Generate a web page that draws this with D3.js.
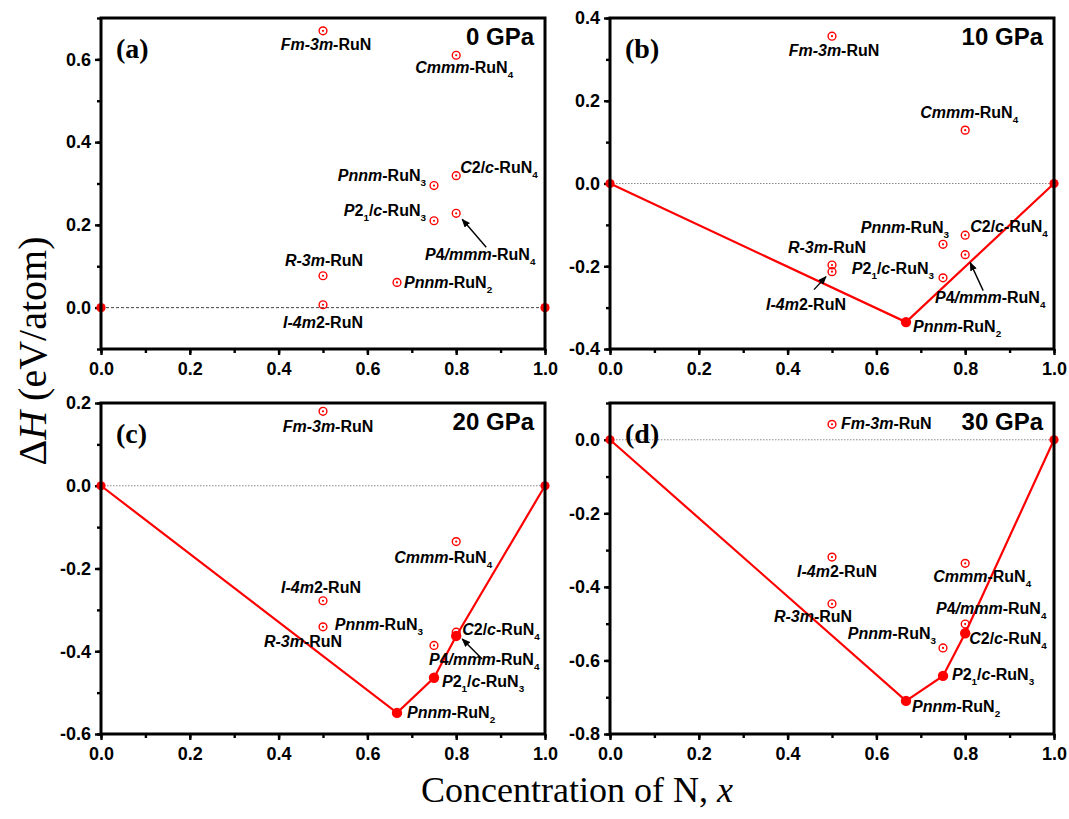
<!DOCTYPE html>
<html><head><meta charset="utf-8">
<script src="https://cdn.jsdelivr.net/npm/d3@7"></script>
<style>body{margin:0;background:#fff}svg{display:block}</style>
</head><body><svg id="chart" width="1069" height="819"></svg>
<script>
// ---------------- DATA ----------------
const structures = ["Fm-3m-RuN","R-3m-RuN","I-4m2-RuN","Pnnm-RuN2","Pnnm-RuN3","P21/c-RuN3","C2/c-RuN4","P4/mmm-RuN4","Cmmm-RuN4"];
// rich-text: *...* toggles italic, _X makes X a subscript
const structureLabels = ["*Fm-3m*-RuN","*R-3m*-RuN","*I-4m*2-RuN","*Pnnm*-RuN_2","*Pnnm*-RuN_3","*P*2_1/*c*-RuN_3","*C*2/*c*-RuN_4","*P*4*/mmm*-RuN_4","*Cmmm*-RuN_4"];
const composition = [0.5,0.5,0.5,2/3,0.75,0.75,0.8,0.8,0.8];
const elementX = [0,1];
const elementH = [0,0];
const pressures = ["0 GPa","10 GPa","20 GPa","30 GPa"];
const panelTags = ["(a)","(b)","(c)","(d)"];
const dH_0GPa  = [0.669, 0.077, 0.007, 0.061, 0.295, 0.210, 0.319, 0.228, 0.610];
const dH_10GPa = [0.356,-0.197,-0.213,-0.335,-0.147,-0.228,-0.125,-0.172, 0.129];
const dH_20GPa = [0.180,-0.341,-0.278,-0.549,-0.386,-0.464,-0.354,-0.363,-0.135];
const dH_30GPa = [0.042,-0.446,-0.319,-0.710,-0.566,-0.642,-0.526,-0.501,-0.336];
const hull_0GPa  = [];
const hull_10GPa = ["Pnnm-RuN2"];
const hull_20GPa = ["Pnnm-RuN2","P21/c-RuN3","P4/mmm-RuN4"];
const hull_30GPa = ["Pnnm-RuN2","P21/c-RuN3","C2/c-RuN4"];
const yDomain_0GPa  = [-0.1,0.7];
const yDomain_10GPa = [-0.4,0.4];
const yDomain_20GPa = [-0.6,0.2];
const yDomain_30GPa = [-0.8,0.1];
const xTicks = [0,0.2,0.4,0.6,0.8,1.0];
const xTitle = "Concentration of N, ";
const yTitleUnit = " (eV/atom)";

// ---------------- LAYOUT (positions / styles) ----------------
const W = 444, H = 331;
const panelPos = [[101,18],[610,18],[101,403],[610,403]];
// label placement per panel: [anchor, dx, dy] relative to marker (pixels)
const labelPlace = [
  [["middle",3,19],["middle",1,-10],["middle",0,23],["start",7,6],["end",-8,-5],["end",-8,-5],["start",4,-3],["middle",24,47],["middle",8,18]],
  [["middle",2,20],["middle",-5,-12],["middle",-26,38],["start",7,10],["end",6,-11],["end",-9,-4],["start",5,-3],["middle",25,48],["middle",4,-12]],
  [["middle",5,21],["middle",-20,20],["middle",-2,-8],["start",10,5],["end",-11,-15],["start",8,9],["start",6,3],["middle",28,29],["middle",-13,21]],
  [["start",9,5],["middle",-19,18],["middle",5,20],["start",6,11],["end",-7,-9],["start",9,4],["start",4,11],["middle",26,-10],["middle",17,19]]
];
// arrows: [structure name, tail dx, tail dy, tip dx, tip dy] relative to marker
const arrowPlace = [
  [["P4/mmm-RuN4",30,34,6,6]],
  [["I-4m2-RuN",-18,18,-6,5],["P4/mmm-RuN4",18,36,5,8]],
  [["P4/mmm-RuN4",26,23,6,3]],
  []
];

const panelData = [
  {dH:dH_0GPa, hull:hull_0GPa, yDom:yDomain_0GPa},
  {dH:dH_10GPa, hull:hull_10GPa, yDom:yDomain_10GPa},
  {dH:dH_20GPa, hull:hull_20GPa, yDom:yDomain_20GPa},
  {dH:dH_30GPa, hull:hull_30GPa, yDom:yDomain_30GPa}
];

const SANS = "'Liberation Sans', Arial, sans-serif";
const SERIF = "'Liberation Serif', 'Times New Roman', serif";
const RED = "#ff0000";

const svg = d3.select("#chart");
const defs = svg.append("defs");
defs.append("marker").attr("id","arrowhead")
  .attr("markerUnits","userSpaceOnUse").attr("viewBox","0 0 10 8")
  .attr("markerWidth",9).attr("markerHeight",7).attr("refX",9).attr("refY",4)
  .attr("orient","auto")
  .append("path").attr("d","M0,0 L10,4 L0,8 z").attr("fill","#000");

function richText(textSel, markup, size){
  let italic=false, buf="", runs=[];
  for(let i=0;i<markup.length;i++){
    const c=markup[i];
    if(c==="*"){ if(buf){runs.push({t:buf,it:italic,sub:false});buf="";} italic=!italic; }
    else if(c==="_"){ if(buf){runs.push({t:buf,it:italic,sub:false});buf="";} runs.push({t:markup[++i],it:false,sub:true}); }
    else buf+=c;
  }
  if(buf) runs.push({t:buf,it:italic,sub:false});
  let prevSub=false;
  runs.forEach(r=>{
    const ts=textSel.append("tspan").text(r.t)
      .attr("font-style",r.it?"italic":"normal")
      .attr("font-size",r.sub?size*0.62:size);
    if(r.sub && !prevSub) ts.attr("dy",5);
    if(!r.sub && prevSub) ts.attr("dy",-5);
    prevSub=r.sub;
  });
}

const fmt = d => (Math.abs(d)<1e-9 ? "0.0" : d.toFixed(1));

panelData.forEach((pd,pi)=>{
  const [px,py]=panelPos[pi];
  const g=svg.append("g").attr("transform",`translate(${px},${py})`);
  const x=d3.scaleLinear().domain([0,1]).range([0,W]);
  const y=d3.scaleLinear().domain(pd.yDom).range([H,0]);

  // minor ticks
  const yMinor=d3.range(Math.round(pd.yDom[0]*10),Math.round(pd.yDom[1]*10)+1).map(v=>v/10);
  g.append("g").call(d3.axisLeft(y).tickValues(yMinor).tickSize(4).tickFormat(""))
    .call(s=>{s.select(".domain").remove();s.selectAll("line").attr("stroke-width",2.4);});
  g.append("g").attr("transform",`translate(0,${H})`)
    .call(d3.axisBottom(x).tickValues(d3.range(0,11).map(v=>v/10)).tickSize(4).tickFormat(""))
    .call(s=>{s.select(".domain").remove();s.selectAll("line").attr("stroke-width",2.4);});
  // major ticks
  const yMajor=yMinor.filter(v=>Math.abs(Math.round(v*10))%2===0);
  g.append("g").call(d3.axisLeft(y).tickValues(yMajor).tickSize(6).tickPadding(4).tickFormat(fmt))
    .call(s=>{s.select(".domain").remove();s.selectAll("line").attr("stroke-width",2.4);
      s.selectAll("text").attr("font-family",SANS).attr("font-weight","bold").attr("font-size",18).attr("fill","#000");});
  g.append("g").attr("transform",`translate(0,${H})`)
    .call(d3.axisBottom(x).tickValues(xTicks).tickSize(6).tickPadding(7).tickFormat(fmt))
    .call(s=>{s.select(".domain").remove();s.selectAll("line").attr("stroke-width",2.4);
      s.selectAll("text").attr("font-family",SANS).attr("font-weight","bold").attr("font-size",18).attr("fill","#000");});

  // zero reference line
  g.append("line").attr("x1",0).attr("x2",W).attr("y1",y(0)).attr("y2",y(0))
    .attr("stroke",pi===0?"#444":"#888").attr("stroke-width",1)
    .attr("stroke-dasharray",pi===0?"3,2":"1.5,1.5");

  // hull
  const hullPts=[[elementX[0],elementH[0]]]
    .concat(structures.map((s,i)=>[composition[i],pd.dH[i],s]).filter(d=>pd.hull.includes(d[2])))
    .concat([[elementX[1],elementH[1]]]).sort((a,b)=>a[0]-b[0]);
  if(pd.hull.length>0){
    g.append("path").datum(hullPts)
      .attr("d",d3.line().x(d=>x(d[0])).y(d=>y(d[1])))
      .attr("fill","none").attr("stroke",RED).attr("stroke-width",2.2);
  }

  // points
  structures.forEach((s,i)=>{
    const cx=x(composition[i]), cy=y(pd.dH[i]);
    if(pd.hull.includes(s)){
      g.append("circle").attr("cx",cx).attr("cy",cy).attr("r",5.2).attr("fill",RED);
    } else {
      g.append("circle").attr("cx",cx).attr("cy",cy).attr("r",3.9).attr("fill","none").attr("stroke",RED).attr("stroke-width",1.4);
      g.append("circle").attr("cx",cx).attr("cy",cy).attr("r",1.1).attr("fill",RED);
    }
  });
  elementX.forEach((ex,i)=>{
    g.append("circle").attr("cx",x(ex)).attr("cy",y(elementH[i])).attr("r",4.6).attr("fill",RED);
  });

  // arrows
  arrowPlace[pi].forEach(a=>{
    const i=structures.indexOf(a[0]);
    const cx=x(composition[i]), cy=y(pd.dH[i]);
    g.append("line").attr("x1",cx+a[1]).attr("y1",cy+a[2]).attr("x2",cx+a[3]).attr("y2",cy+a[4])
      .attr("stroke","#000").attr("stroke-width",1.4).attr("marker-end","url(#arrowhead)");
  });

  // labels
  structures.forEach((s,i)=>{
    const [anc,dx,dy]=labelPlace[pi][i];
    const t=g.append("text").attr("x",x(composition[i])+dx).attr("y",y(pd.dH[i])+dy)
      .attr("text-anchor",anc).attr("font-family",SANS).attr("font-weight","bold").attr("fill","#000");
    richText(t,structureLabels[i],16);
  });

  // frame
  g.append("rect").attr("x",0).attr("y",0).attr("width",W).attr("height",H)
    .attr("fill","none").attr("stroke","#000").attr("stroke-width",3);

  // panel tag & pressure
  g.append("text").attr("x",15).attr("y",40).text(panelTags[pi])
    .attr("font-family",SERIF).attr("font-weight","bold").attr("font-size",28);
  g.append("text").attr("x",W-11).attr("y",27).attr("text-anchor","end").text(pressures[pi])
    .attr("font-family",SANS).attr("font-weight","bold").attr("font-size",24);
});

// axis titles
const xt=svg.append("text").attr("x",577).attr("y",802).attr("text-anchor","middle")
  .attr("font-family",SERIF).attr("font-size",36);
xt.append("tspan").text(xTitle);
xt.append("tspan").text("x").attr("font-style","italic");

const yt=svg.append("text").attr("transform","translate(46,351) rotate(-90)").attr("text-anchor","middle")
  .attr("font-family",SERIF).attr("font-size",40);
yt.append("tspan").text("\u0394");
yt.append("tspan").text("H").attr("font-style","italic");
yt.append("tspan").text(yTitleUnit);
</script>
</body></html>
